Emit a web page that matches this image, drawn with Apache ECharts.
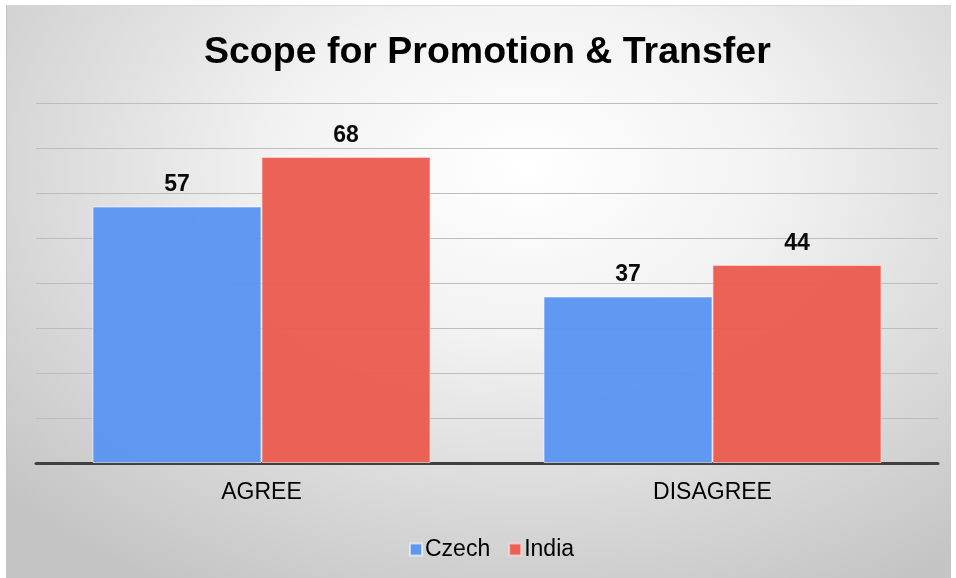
<!DOCTYPE html>
<html>
<head>
<meta charset="utf-8">
<script src="https://cdn.jsdelivr.net/npm/echarts@6/dist/echarts.min.js"></script>
<style>
  html, body { margin: 0; padding: 0; background: #ffffff; }
  #bg {
    position: absolute; left: 6px; top: 5px; width: 944px; height: 573px;
    background: radial-gradient(ellipse 75% 85% at 55% 28%, #ffffff 0%, #f2f2f2 35%, #d9d9d9 70%, #c4c4c4 100%);
    border-top: 1px solid #d8d8d8; border-left: 1px solid #c4c4c4;
  }
  #app { position: absolute; left: 0; top: 0; width: 956px; height: 578px; }
</style>
</head>
<body>
<div id="bg"></div>
<div id="app"></div>
<script>
  // values
  const categories = ['AGREE', 'DISAGREE'];
  const czech = [57, 37];
  const india = [68, 44];
  const seriesNames = ['Czech', 'India'];

  var myChart = echarts.init(document.getElementById('app'));

  let labelStyle = {
    show: true,
    position: 'top',
    distance: 10,
    color: '#000',
    fontFamily: 'Liberation Sans, Arial',
    fontWeight: 'bold',
    fontSize: 23
  };

  let option = {
    title: {
      text: 'Scope for Promotion & Transfer',
      left: 199,
      top: 29,
      textStyle: {
        fontFamily: 'Liberation Sans, Arial',
        fontWeight: 'bold',
        fontSize: 37.5,
        color: '#000'
      }
    },
    legend: {
      data: seriesNames,
      left: 404,
      top: 533,
      itemWidth: 12,
      itemHeight: 12,
      itemGap: 18,
      icon: 'rect',
      textStyle: {
        fontFamily: 'Liberation Sans, Arial',
        fontSize: 23,
        color: '#000',
        padding: [0, 0, 0, -2]
      }
    },
    grid: {
      left: 36,
      right: 18,
      top: 103,
      bottom: 115
    },
    xAxis: {
      type: 'category',
      data: categories,
      axisTick: { show: false },
      axisLine: { lineStyle: { color: '#404040', width: 3 } },
      axisLabel: {
        margin: 18,
        fontFamily: 'Liberation Sans, Arial',
        fontSize: 23,
        color: '#000'
      }
    },
    yAxis: {
      type: 'value',
      min: 0,
      max: 80,
      interval: 10,
      axisLabel: { show: false },
      axisLine: { show: false },
      axisTick: { show: false },
      splitLine: { lineStyle: { color: '#bdbdbd', width: 1 } }
    },
    series: [
      {
        name: seriesNames[0],
        type: 'bar',
        data: czech,
        barWidth: 169,
        barGap: '0%',
        itemStyle: {
          color: '#5b94f1',
          opacity: 0.96,
          borderColor: 'rgba(255,255,255,0.6)',
          borderWidth: 1
        },
        label: labelStyle
      },
      {
        name: seriesNames[1],
        type: 'bar',
        data: india,
        barWidth: 169,
        barGap: '0%',
        itemStyle: {
          color: '#eb5c50',
          opacity: 0.96,
          borderColor: 'rgba(255,220,220,0.7)',
          borderWidth: 1
        },
        label: labelStyle
      }
    ]
  };

  myChart.setOption(option);
</script>
</body>
</html>
